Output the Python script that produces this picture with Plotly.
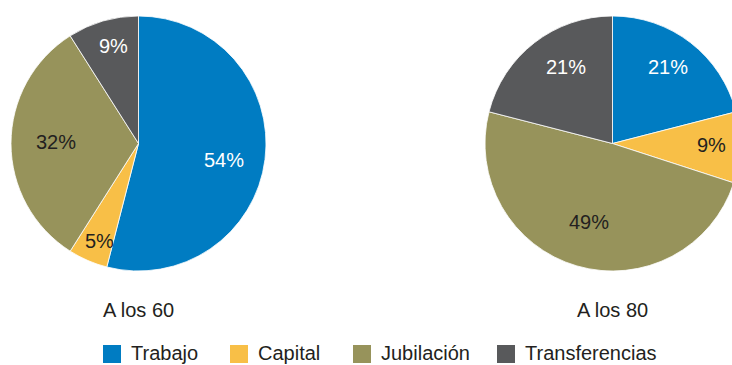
import math
import plotly.graph_objects as go

# Income sources by age
categories = ["Trabajo", "Capital", "Jubilación", "Transferencias"]
share_60 = [54, 5, 32, 9]
share_80 = [21, 9, 49, 21]
titles = ["A los 60", "A los 80"]

colors = ["#007CC2", "#F8BF47", "#97935B", "#58595B"]
text_colors = ["#FFFFFF", "#231F20", "#231F20", "#FFFFFF"]
FONT = "Liberation Sans, Arial, sans-serif"

# Label placement inside each slice: radial fraction and angular nudge (deg)
label_radius = [[0.68, 0.82, 0.65, 0.79], [0.74, 0.78, 0.64, 0.70]]
label_nudge = [[4.0, -1.7, 1.0, 1.8], [-1.8, -0.8, 0.6, 6.2]]

W, H = 760, 365
R = 127.5
centers = [(138.5, 143.5), (612.5, 143.5)]

fig = go.Figure()
for k, (vals, (cx, cy)) in enumerate(zip([share_60, share_80], centers)):
    dom = dict(x=[(cx - R) / W, (cx + R) / W], y=[1 - (cy + R) / H, 1 - (cy - R) / H])
    fig.add_trace(go.Pie(
        labels=categories,
        values=vals,
        sort=False,
        direction="clockwise",
        rotation=0,
        domain=dom,
        marker=dict(colors=colors, line=dict(color="#FFFFFF", width=0.8)),
        textinfo="none",
        showlegend=False,
        hoverinfo="label+value",
    ))

    # Percentage labels placed along each slice's mid-angle
    total = sum(vals)
    start = 0.0
    for i, v in enumerate(vals):
        span = 360.0 * v / total
        ang = math.radians(start + span / 2 + label_nudge[k][i])
        start += span
        rr = R * label_radius[k][i]
        px = cx + rr * math.sin(ang)
        py = cy - rr * math.cos(ang)
        fig.add_annotation(
            text=f"{v}%", x=px / W, y=1 - py / H,
            xref="paper", yref="paper", xanchor="center", yanchor="middle",
            showarrow=False, font=dict(family=FONT, size=20, color=text_colors[i]),
        )

    # Title under the pie
    fig.add_annotation(
        text=titles[k], x=cx / W, y=1 - 310 / H,
        xref="paper", yref="paper", xanchor="center", yanchor="middle",
        showarrow=False, font=dict(family=FONT, size=20, color="#231F20"),
    )

# Legend row: colour square followed by its label
legend_x = [103, 230, 353, 497]
for name, col, x0 in zip(categories, colors, legend_x):
    fig.add_shape(
        type="rect", xref="paper", yref="paper",
        x0=x0 / W, x1=(x0 + 18) / W, y0=1 - 363 / H, y1=1 - 345 / H,
        fillcolor=col, line=dict(width=0),
    )
    fig.add_annotation(
        text=name, x=(x0 + 26) / W, y=1 - 353 / H,
        xref="paper", yref="paper", xanchor="left", yanchor="middle",
        showarrow=False, font=dict(family=FONT, size=20, color="#231F20"),
    )

fig.update_layout(
    width=W, height=H,
    margin=dict(l=0, r=0, t=0, b=0),
    paper_bgcolor="#FFFFFF",
    plot_bgcolor="#FFFFFF",
)

fig.write_html(
    "out.html",
    post_script="document.documentElement.style.overflow='hidden';document.body.style.overflow='hidden';",
)
